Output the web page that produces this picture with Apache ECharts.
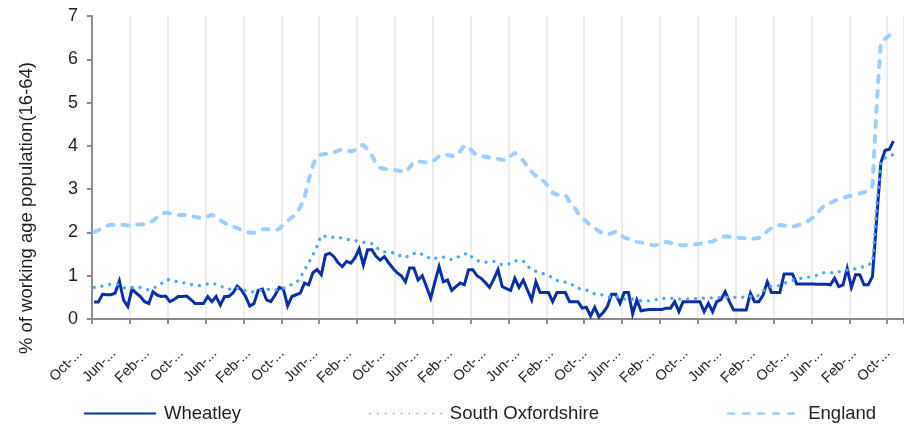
<!DOCTYPE html>
<html>
<head>
<meta charset="utf-8">
<script src="https://cdn.jsdelivr.net/npm/echarts@6/dist/echarts.min.js"></script>
<style>
html,body{margin:0;padding:0;background:#fff;}
#chart{width:904px;height:426px;}
</style>
</head>
<body>
<div id="chart"></div>
<script>
// Categories: monthly, Oct-04 .. Oct-20 (chart is cropped at the right edge)
const monthNames = ['Jan','Feb','Mar','Apr','May','Jun','Jul','Aug','Sep','Oct','Nov','Dec'];
const categories = [];
for (let k = 0; k < 193; k++) {
  const m = (9 + k) % 12;
  const y = 2004 + Math.floor((9 + k) / 12);
  categories.push(monthNames[m] + '-' + String(y).slice(2));
}

const seriesNames = ['Wheatley', 'South Oxfordshire', 'England'];

const wheatley = [
  0.39,0.39,0.57,0.56,0.56,0.60,0.88,0.44,0.29,0.69,
  0.60,0.52,0.40,0.36,0.63,0.55,0.52,0.53,0.40,0.45,
  0.52,0.52,0.53,0.45,0.36,0.36,0.36,0.52,0.40,0.52,
  0.32,0.52,0.52,0.60,0.76,0.67,0.52,0.30,0.36,0.66,
  0.69,0.44,0.40,0.55,0.73,0.69,0.30,0.52,0.56,0.60,
  0.83,0.79,1.07,1.14,1.02,1.48,1.52,1.44,1.30,1.21,
  1.33,1.29,1.41,1.62,1.25,1.60,1.60,1.45,1.36,1.44,
  1.30,1.18,1.07,1.00,0.86,1.18,1.18,0.90,1.00,0.75,
  0.48,0.85,1.21,0.86,0.90,0.66,0.75,0.83,0.79,1.14,
  1.14,1.00,0.94,0.84,0.73,0.92,1.14,0.75,0.70,0.66,
  0.94,0.73,0.90,0.67,0.44,0.86,0.61,0.61,0.61,0.40,
  0.61,0.61,0.61,0.40,0.40,0.40,0.25,0.27,0.07,0.27,
  0.05,0.15,0.29,0.57,0.57,0.36,0.61,0.61,0.12,0.44,
  0.19,0.21,0.22,0.22,0.22,0.22,0.25,0.25,0.40,0.17,
  0.40,0.40,0.40,0.40,0.40,0.17,0.36,0.17,0.40,0.45,
  0.63,0.40,0.21,0.21,0.21,0.21,0.60,0.40,0.40,0.55,
  0.86,0.61,0.61,0.61,1.04,1.04,1.04,0.81,0.81,0.81,
  0.81,0.81,0.80,0.80,0.80,0.79,0.94,0.75,0.79,1.17,
  0.73,1.02,1.02,0.79,0.79,0.98,2.30,3.61,3.90,3.92,
  4.11,null,null
];

const southOxfordshire = [
  0.73,0.74,0.76,0.78,0.81,0.80,0.79,0.72,0.72,0.73,
  0.73,0.73,0.70,0.67,0.71,0.76,0.82,0.90,0.91,0.88,
  0.86,0.84,0.82,0.80,0.78,0.77,0.79,0.81,0.83,0.80,
  0.76,0.72,0.69,0.70,0.71,0.68,0.66,0.63,0.63,0.65,
  0.67,0.69,0.68,0.67,0.68,0.71,0.76,0.80,0.83,0.95,
  1.13,1.30,1.48,1.68,1.93,1.91,1.89,1.89,1.88,1.87,
  1.84,1.82,1.81,1.79,1.77,1.76,1.74,1.66,1.58,1.55,
  1.54,1.53,1.51,1.44,1.42,1.48,1.51,1.54,1.49,1.45,
  1.38,1.40,1.43,1.43,1.41,1.37,1.40,1.46,1.50,1.52,
  1.41,1.35,1.33,1.31,1.32,1.33,1.30,1.25,1.26,1.28,
  1.34,1.35,1.34,1.22,1.14,1.10,1.07,1.04,1.00,0.95,
  0.89,0.87,0.85,0.83,0.77,0.71,0.69,0.67,0.62,0.58,
  0.57,0.55,0.51,0.51,0.52,0.49,0.46,0.46,0.46,0.44,
  0.42,0.42,0.42,0.44,0.45,0.47,0.48,0.48,0.47,0.46,
  0.46,0.46,0.46,0.47,0.48,0.48,0.49,0.49,0.49,0.50,
  0.50,0.50,0.50,0.50,0.50,0.51,0.52,0.50,0.55,0.65,
  0.72,0.76,0.76,0.77,0.82,0.86,0.89,0.92,0.94,0.96,
  0.97,0.98,1.02,1.06,1.07,1.07,1.07,1.09,1.12,1.13,
  1.15,1.16,1.17,1.22,1.25,1.29,2.60,3.65,3.72,3.76,
  3.80,null,null
];

const england = [
  2.01,2.05,2.10,2.15,2.18,2.18,2.17,2.18,2.16,2.16,
  2.18,2.19,2.19,2.22,2.27,2.35,2.42,2.46,2.44,2.41,
  2.40,2.41,2.40,2.38,2.36,2.34,2.33,2.37,2.41,2.36,
  2.28,2.22,2.18,2.14,2.10,2.06,2.02,1.99,1.99,2.04,
  2.07,2.08,2.07,2.05,2.08,2.18,2.26,2.35,2.41,2.58,
  2.80,3.20,3.55,3.76,3.80,3.81,3.82,3.85,3.89,3.92,
  3.90,3.87,3.90,4.00,4.02,3.92,3.78,3.60,3.49,3.47,
  3.46,3.45,3.43,3.41,3.39,3.50,3.63,3.64,3.63,3.62,
  3.61,3.68,3.76,3.80,3.79,3.77,3.76,3.88,4.00,3.98,
  3.86,3.78,3.76,3.75,3.73,3.71,3.70,3.68,3.67,3.76,
  3.84,3.75,3.66,3.52,3.40,3.31,3.22,3.18,3.05,2.92,
  2.87,2.87,2.87,2.72,2.60,2.45,2.34,2.25,2.16,2.10,
  2.03,1.98,1.95,1.98,2.02,1.95,1.88,1.85,1.81,1.78,
  1.77,1.75,1.72,1.70,1.71,1.75,1.78,1.76,1.73,1.71,
  1.70,1.71,1.72,1.73,1.74,1.76,1.78,1.79,1.84,1.90,
  1.91,1.90,1.89,1.88,1.87,1.86,1.85,1.86,1.87,1.93,
  2.03,2.10,2.16,2.17,2.16,2.14,2.13,2.16,2.19,2.22,
  2.28,2.36,2.46,2.57,2.64,2.68,2.73,2.77,2.80,2.83,
  2.85,2.87,2.90,2.93,2.96,3.06,4.95,6.40,6.47,6.55,
  6.65,null,null
];

const yTicks = [0,1,2,3,4,5,6,7];
const yTitle = '% of working age population(16-64)';

const FONT = '"Liberation Sans", Arial, sans-serif';
const axisGray = '#8c8c8c';
const textColor = '#1e1e1e';

const chart = echarts.init(document.getElementById('chart'), null, {renderer: 'canvas'});
chart.setOption({
  animation: false,
  backgroundColor: '#ffffff',
  textStyle: {fontFamily: FONT},
  grid: {left: 92, top: 16, bottom: 107, right: -9, containLabel: false},
  graphic: [{
    type: 'text',
    x: 27, y: 208,
    rotation: Math.PI / 2,
    style: {
      text: yTitle,
      font: '18.5px ' + FONT,
      fill: textColor,
      align: 'center',
      verticalAlign: 'middle'
    }
  }],
  legend: {
    left: 78, top: 399,
    itemWidth: 72, itemHeight: 14, itemGap: 128,
    textStyle: {fontSize: 18.5, color: textColor, fontFamily: FONT, padding: [0, 0, 0, 3]},
    data: [
      {name: seriesNames[0], lineStyle: {width: 2}, itemStyle: {opacity: 0}},
      {name: seriesNames[1], lineStyle: {width: 1.5}, itemStyle: {opacity: 0}},
      {name: seriesNames[2], lineStyle: {width: 2.5}, itemStyle: {opacity: 0}}
    ]
  },
  xAxis: {
    type: 'category',
    data: categories,
    boundaryGap: true,
    axisLine: {show: true, lineStyle: {color: axisGray, width: 2}},
    axisTick: {show: true, interval: 8, length: 5, lineStyle: {color: axisGray, width: 2}},
    splitLine: {show: true, interval: 8, lineStyle: {color: '#ececec', width: 2}},
    axisLabel: {
      interval: 7, rotate: 45, fontSize: 14.5, color: textColor, fontFamily: FONT,
      margin: 18, padding: [0, 20, 0, 0],
      formatter: v => v.split('-')[0] + '-...'
    }
  },
  yAxis: {
    type: 'value', min: yTicks[0], max: yTicks[yTicks.length - 1], interval: 1,
    axisLine: {show: true, lineStyle: {color: axisGray, width: 2}},
    axisTick: {show: true, length: 5, lineStyle: {color: axisGray, width: 2}},
    splitLine: {show: false},
    axisLabel: {fontSize: 18, color: textColor, fontFamily: FONT, margin: 14}
  },
  series: [
    {
      name: seriesNames[0], type: 'line', data: wheatley, symbol: 'none',
      lineStyle: {color: '#0a2ea6', width: 3, join: 'miter'},
      itemStyle: {color: '#0a2ea6'}
    },
    {
      name: seriesNames[1], type: 'line', data: southOxfordshire, symbol: 'none',
      lineStyle: {color: '#4fa5f5', width: 3.3, type: [0.1, 7.8], cap: 'round'},
      itemStyle: {color: '#4fa5f5'}
    },
    {
      name: seriesNames[2], type: 'line', data: england, symbol: 'none',
      lineStyle: {color: '#9fcdfc', width: 4, type: [6, 9], cap: 'round'},
      itemStyle: {color: '#9fcdfc'}
    }
  ]
});
</script>
</body>
</html>
